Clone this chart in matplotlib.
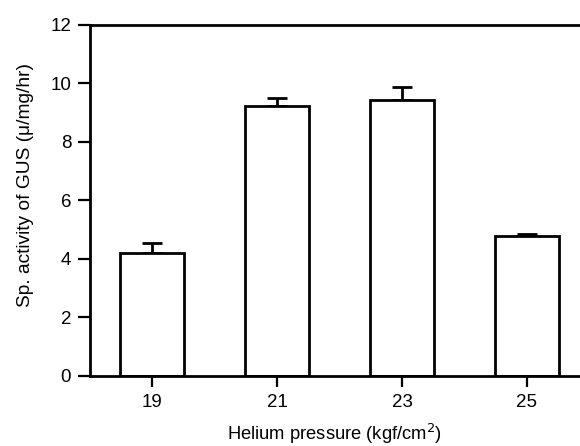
import numpy as np
import matplotlib
matplotlib.use("Agg")
import matplotlib.pyplot as plt

pressure = [19, 21, 23, 25]
activity = [4.22, 9.22, 9.42, 4.8]
err_up = [0.32, 0.28, 0.46, 0.07]

plt.rcParams['font.family'] = ['Liberation Sans', 'DejaVu Sans']

fig = plt.figure(figsize=(5.8, 4.46), dpi=100)
ax = fig.add_axes([0.155, 0.157, 0.845, 0.787])

ax.bar(pressure, activity, width=1.02, color="white", edgecolor="black", linewidth=2.0, zorder=2)
ax.errorbar(pressure, activity, yerr=[np.zeros(len(err_up)), err_up], fmt="none",
            ecolor="black", elinewidth=2.0, capsize=7.5, capthick=2.0, zorder=1)

ax.set_xlim(18.0, 25.85)
ax.set_ylim(0, 12)
ax.set_xticks(pressure)
ax.set_yticks([0, 2, 4, 6, 8, 10, 12])

for s in ["left", "bottom", "top"]:
    ax.spines[s].set_linewidth(2.0)
ax.spines["right"].set_visible(False)

ax.tick_params(axis="y", direction="out", length=8.5, width=1.6, labelsize=13.5, pad=5)
ax.tick_params(axis="x", direction="out", length=8, width=1.6, labelsize=13.5, pad=5)
ax.set_xlabel("Helium pressure (kgf/cm$^2$)", fontsize=13.2)
ax.set_ylabel("Sp. activity of GUS (\u03bc/mg/hr)", fontsize=13.8)
ax.xaxis.set_label_coords(0.5, -0.132)
ax.yaxis.set_label_coords(-0.114, 0.544)

fig.savefig("out.png", dpi=100)
